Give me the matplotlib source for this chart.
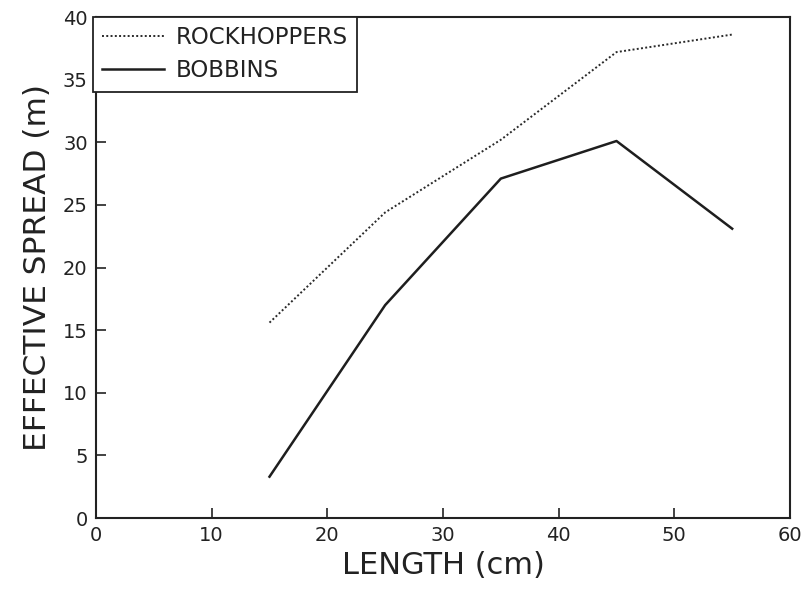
import matplotlib
matplotlib.use("Agg")
import matplotlib.pyplot as plt

# Effective spread vs. length
lengths = [15, 25, 35, 45, 55]
rockhoppers = [15.6, 24.4, 30.2, 37.2, 38.6]
bobbins = [3.3, 17.0, 27.1, 30.1, 23.1]

x_ticks = [0, 10, 20, 30, 40, 50, 60]
y_ticks = [0, 5, 10, 15, 20, 25, 30, 35, 40]

plt.rcParams['font.family'] = ['DejaVu Sans']

fig = plt.figure(figsize=(8.04, 5.91), dpi=100)
ax = fig.add_axes([0.1194, 0.1235, 0.8632, 0.8477])

ax.plot(lengths, rockhoppers, color="#2a2a2a", linestyle=(0, (1, 1.2)), linewidth=1.4,
        label="ROCKHOPPERS")
ax.plot(lengths, bobbins, color="#1e1e1e", linestyle="-", linewidth=1.8, label="BOBBINS")

ax.set_xlim(0, 60)
ax.set_ylim(0, 40)
ax.set_xticks(x_ticks)
ax.set_yticks(y_ticks)
ax.tick_params(direction="in", length=7, width=1.2, labelsize=14, colors="#222222",
               top=False, right=False)
ax.tick_params(axis="x", pad=6)
ax.tick_params(axis="y", pad=6)
for s in ax.spines.values():
    s.set_linewidth(1.5)
    s.set_color("#222222")

ax.set_xlabel("LENGTH (cm)", fontsize=22, color="#222222", labelpad=4)
ax.set_ylabel("EFFECTIVE SPREAD (m)", fontsize=22.5, color="#222222", labelpad=8)

leg = ax.legend(loc="upper left", bbox_to_anchor=(-0.004, 1.0), fontsize=16.5,
                frameon=True, fancybox=False, framealpha=1, handlelength=2.7,
                handletextpad=0.5, borderpad=0.4, labelspacing=0.45, borderaxespad=0)
leg.get_frame().set_edgecolor("#222222")
leg.get_frame().set_linewidth(1.3)
for t in leg.get_texts():
    t.set_color("#222222")

fig.savefig("out.png", dpi=100)
